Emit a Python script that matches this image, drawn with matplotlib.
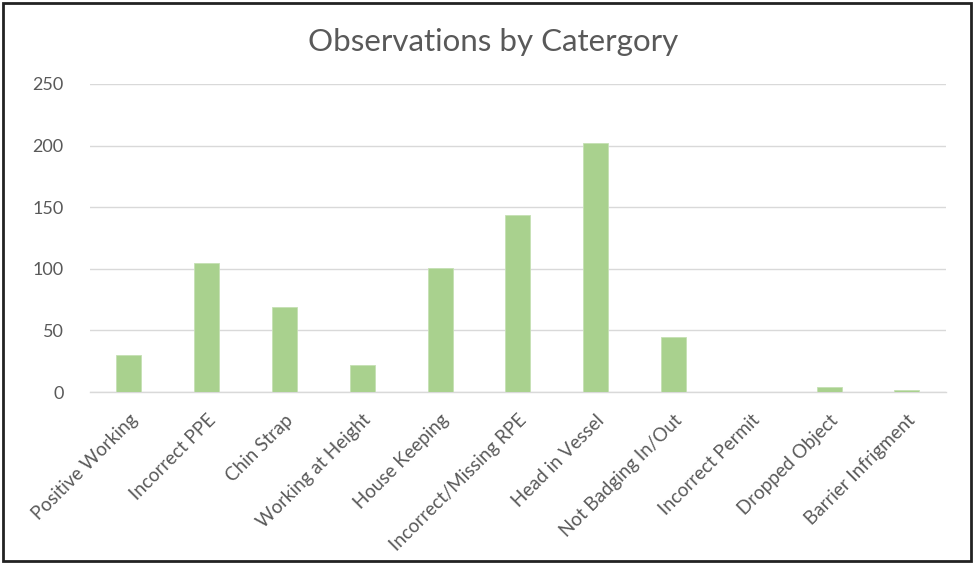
import matplotlib
matplotlib.use("Agg")
import matplotlib.pyplot as plt
from matplotlib.patches import Rectangle

# data
categories = [
    "Positive Working", "Incorrect PPE", "Chin Strap", "Working at Height",
    "House Keeping", "Incorrect/Missing RPE", "Head in Vessel",
    "Not Badging In/Out", "Incorrect Permit", "Dropped Object",
    "Barrier Infrigment",
]
counts = [30, 105, 69, 22, 101, 144, 202, 45, 0, 4, 2]
y_ticks = [0, 50, 100, 150, 200, 250]

plt.rcParams["font.family"] = ["Lato", "DejaVu Sans"]
text_grey = "#595959"

fig = plt.figure(figsize=(9.74, 5.63), dpi=100)
ax = fig.add_axes([0.0924, 0.3037, 0.8786, 0.5471])

x = range(len(categories))
ax.bar(x, counts, width=0.32, color="#A9D18E", edgecolor="#C5E0B4",
       linewidth=0.6, zorder=3)

ax.set_xlim(-0.5, len(categories) - 0.5)
ax.set_ylim(0, 250)
ax.set_yticks(y_ticks)
ax.set_yticklabels([str(v) for v in y_ticks], fontsize=13, color=text_grey)
ax.yaxis.grid(True, color="#D9D9D9", linewidth=1, zorder=0)
ax.set_axisbelow(True)

ax.set_xticks(list(x))
ax.set_xticklabels(categories, rotation=45, ha="right", va="top",
                   rotation_mode="anchor", fontsize=13.5, color=text_grey)
ax.tick_params(axis="both", length=0)
ax.tick_params(axis="y", pad=19)
ax.tick_params(axis="x", pad=14)

for s in ["top", "right", "left"]:
    ax.spines[s].set_visible(False)
ax.spines["bottom"].set_color("#D9D9D9")
ax.spines["bottom"].set_linewidth(1)

fig.text(0.506, 0.926, "Observations by Catergory", ha="center",
         va="center", fontsize=22.5, color=text_grey)

# outer frame
fig.patches.append(Rectangle((0.003, 0.004), 0.994, 0.991,
                             transform=fig.transFigure, fill=False,
                             edgecolor="#222222", linewidth=2))

fig.savefig("out.png", dpi=100, facecolor="white")
